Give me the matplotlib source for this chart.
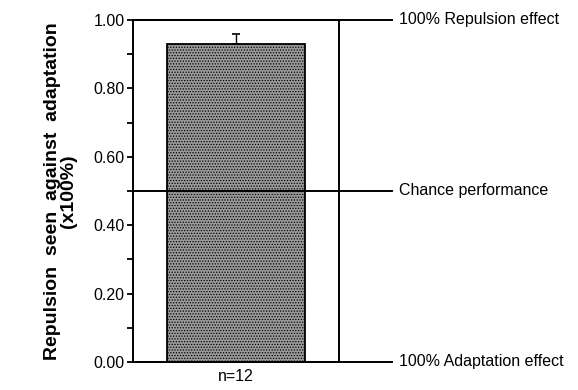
import numpy as np
import matplotlib.pyplot as plt

plt.rcParams['font.family'] = ['Liberation Sans', 'DejaVu Sans']
plt.rcParams['hatch.linewidth'] = 0.6

# data
groups = ['n=12']
mean_values = [0.93]
err_upper = [0.03]
ref_levels = [1.0, 0.5, 0.0]
ref_labels = ['100% Repulsion effect', 'Chance performance', '100% Adaptation effect']

fig = plt.figure(figsize=(5.78, 3.90), dpi=100)
ax = fig.add_axes([0.230, 0.0718, 0.3565, 0.877])

x = np.arange(len(groups))
ax.bar(x, mean_values, width=0.67, color='#9a9a9a', edgecolor='black', linewidth=1.3,
       hatch='......', zorder=2)
ax.errorbar(x, mean_values, yerr=[[0] * len(groups), err_upper], fmt='none',
            ecolor='black', elinewidth=1.0, capsize=3, capthick=1.2, zorder=3)

# reference lines running out past the right edge, with labels
for lev, lab in zip(ref_levels, ref_labels):
    ax.plot([0, 1.257], [lev, lev], transform=ax.get_yaxis_transform(), color='black',
            linewidth=1.4, clip_on=False, zorder=4)
    ax.text(1.29, lev, lab, transform=ax.get_yaxis_transform(), va='center', ha='left',
            fontsize=11.5)

ax.set_xlim(-0.5, 0.5)
ax.set_ylim(0, 1.0)
ax.set_yticks(np.arange(0, 1.01, 0.2))
ax.set_yticks(np.arange(0.1, 1.0, 0.2), minor=True)
ax.set_yticklabels(['%.2f' % v for v in np.arange(0, 1.01, 0.2)], fontsize=11.5)
ax.tick_params(axis='y', which='both', direction='out', width=1.3, length=4, pad=2)
ax.set_xticks(x)
ax.set_xticklabels(groups, fontsize=11.5)
ax.tick_params(axis='x', length=0, pad=5)

for s in ax.spines.values():
    s.set_linewidth(1.4)

ax.set_ylabel('Repulsion  seen  against  adaptation\n(x100%)', fontsize=14,
              fontweight='bold', labelpad=12, linespacing=0.9)

fig.savefig('out.png', dpi=100)
